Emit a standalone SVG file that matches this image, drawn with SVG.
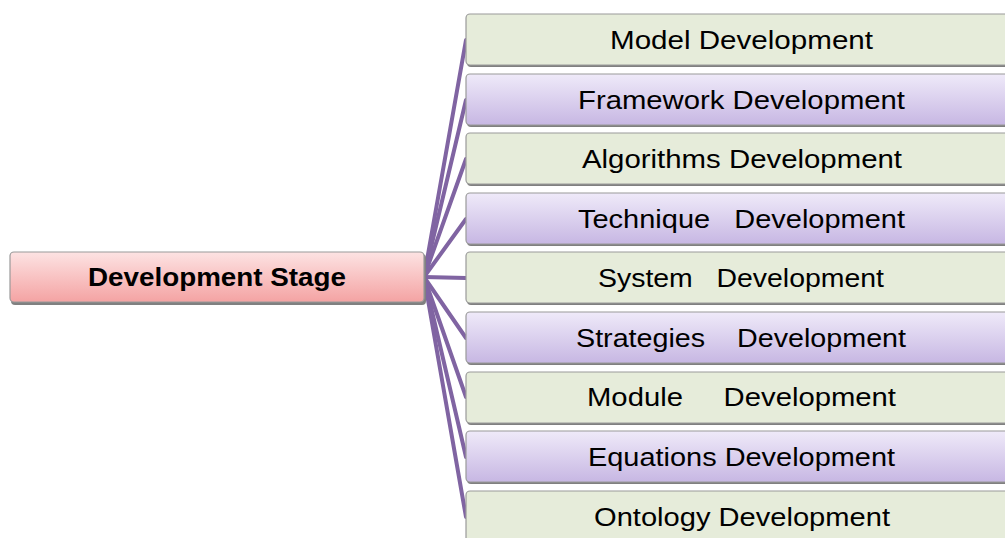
<svg xmlns="http://www.w3.org/2000/svg" width="1005" height="538" viewBox="0 0 1005 538">
<defs>
<linearGradient id="gPurple" x1="0" y1="0" x2="0" y2="1">
<stop offset="0" stop-color="#EFEAF9"/>
<stop offset="1" stop-color="#C7B7E3"/>
</linearGradient>
<linearGradient id="gPink" x1="0" y1="0" x2="0" y2="1">
<stop offset="0" stop-color="#FDE3E3"/>
<stop offset="1" stop-color="#F4A3A3"/>
</linearGradient>
</defs>
<style>
.sh{fill:#808080;}
.green{fill:#E6ECDA;stroke:#9A9A9A;stroke-width:1.2;}
.purple{fill:url(#gPurple);stroke:#9A9A9A;stroke-width:1.2;}
.pink{fill:url(#gPink);stroke:#9A9A9A;stroke-width:1.2;}
.t{font-family:"Liberation Sans",Arial,sans-serif;font-size:26px;fill:#000;white-space:pre;}
.tb{font-family:"Liberation Sans",Arial,sans-serif;font-size:25px;font-weight:bold;fill:#000;}
.c line{stroke:#8064A2;stroke-width:4;stroke-linecap:round;}
</style>
<g class="c" id="connectors">
<line x1="424" y1="277" x2="466" y2="40"/>
<line x1="424" y1="277" x2="466" y2="100"/>
<line x1="424" y1="277" x2="466" y2="159"/>
<line x1="424" y1="277" x2="466" y2="219"/>
<line x1="424" y1="277" x2="466" y2="278"/>
<line x1="424" y1="277" x2="466" y2="338"/>
<line x1="424" y1="277" x2="466" y2="397"/>
<line x1="424" y1="277" x2="466" y2="457"/>
<line x1="424" y1="277" x2="466" y2="517"/>
</g>
<g id="stage">
<rect class="sh" x="11" y="254" width="415" height="51" rx="4"/>
<rect class="pink" x="10" y="252" width="414" height="50" rx="4"/>
<text class="tb" x="217" y="286" text-anchor="middle" textLength="258" lengthAdjust="spacingAndGlyphs">Development Stage</text>
</g>
<g id="n1">
<rect class="sh" x="467" y="16" width="560" height="51" rx="4"/>
<rect class="green" x="466" y="14" width="560" height="51" rx="4"/>
<text class="t" x="610" y="49" textLength="263" lengthAdjust="spacingAndGlyphs">Model Development</text>
</g>
<g id="n2">
<rect class="sh" x="467" y="76" width="560" height="51" rx="4"/>
<rect class="purple" x="466" y="74" width="560" height="51" rx="4"/>
<text class="t" x="578" y="109" textLength="327" lengthAdjust="spacingAndGlyphs">Framework Development</text>
</g>
<g id="n3">
<rect class="sh" x="467" y="135" width="560" height="51" rx="4"/>
<rect class="green" x="466" y="133" width="560" height="51" rx="4"/>
<text class="t" x="582" y="168" textLength="320" lengthAdjust="spacingAndGlyphs">Algorithms Development</text>
</g>
<g id="n4">
<rect class="sh" x="467" y="195" width="560" height="51" rx="4"/>
<rect class="purple" x="466" y="193" width="560" height="51" rx="4"/>
<text class="t" x="578" y="228" textLength="327" lengthAdjust="spacingAndGlyphs">Technique   Development</text>
</g>
<g id="n5">
<rect class="sh" x="467" y="254" width="560" height="51" rx="4"/>
<rect class="green" x="466" y="252" width="560" height="51" rx="4"/>
<text class="t" x="598" y="287" textLength="286" lengthAdjust="spacingAndGlyphs">System   Development</text>
</g>
<g id="n6">
<rect class="sh" x="467" y="314" width="560" height="51" rx="4"/>
<rect class="purple" x="466" y="312" width="560" height="51" rx="4"/>
<text class="t" x="576" y="347" textLength="330" lengthAdjust="spacingAndGlyphs">Strategies    Development</text>
</g>
<g id="n7">
<rect class="sh" x="467" y="374" width="560" height="51" rx="4"/>
<rect class="green" x="466" y="372" width="560" height="51" rx="4"/>
<text class="t" x="587" y="406" textLength="309" lengthAdjust="spacingAndGlyphs">Module     Development</text>
</g>
<g id="n8">
<rect class="sh" x="467" y="433" width="560" height="51" rx="4"/>
<rect class="purple" x="466" y="431" width="560" height="51" rx="4"/>
<text class="t" x="588" y="466" textLength="307" lengthAdjust="spacingAndGlyphs">Equations Development</text>
</g>
<g id="n9">
<rect class="sh" x="467" y="493" width="560" height="51" rx="4"/>
<rect class="green" x="466" y="491" width="560" height="51" rx="4"/>
<text class="t" x="594" y="526" textLength="296" lengthAdjust="spacingAndGlyphs">Ontology Development</text>
</g>
</svg>
